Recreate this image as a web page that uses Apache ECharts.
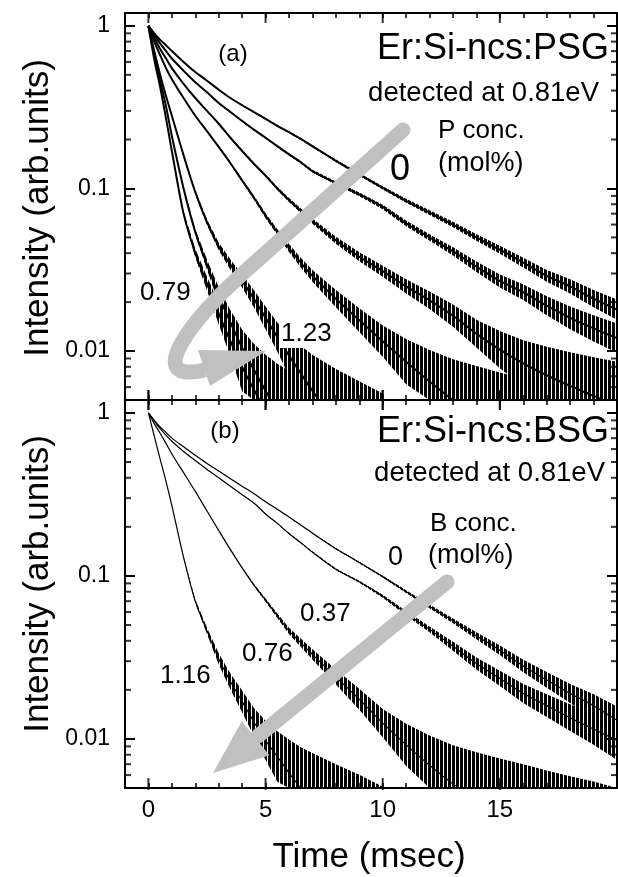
<!DOCTYPE html>
<html><head><meta charset="utf-8">
<script src="https://cdn.jsdelivr.net/npm/echarts/dist/echarts.min.js"></script>
<style>html,body{margin:0;padding:0;background:#fff}#c{width:618px;height:877px}</style>
</head><body><div id="c"></div>
<script>
// ---------- data ----------
const timeMs = [0,0.25,0.5,0.75,1,1.5,2,2.5,3,3.5,4,4.5,5,5.5,6,6.5,7,8,9,10,11,12,13,14,15,16,17,18,19,20];

// (a) Er:Si-ncs:PSG, normalized intensity
const psgP0     = [1,0.9,0.82,0.76,0.70,0.60,0.52,0.46,0.405,0.36,0.325,0.295,0.268,0.243,0.222,0.202,0.182,0.148,0.122,0.101,0.084,0.071,0.060,0.050,0.042,0.035,0.029,0.025,0.021,0.018];
const psgCurve2 = [1,0.88,0.78,0.70,0.63,0.53,0.45,0.39,0.335,0.295,0.26,0.23,0.205,0.182,0.162,0.145,0.128,0.108,0.092,0.077,0.061,0.050,0.041,0.033,0.027,0.023,0.019,0.016,0.0138,0.012];
const psgCurve3 = [1,0.85,0.72,0.63,0.55,0.44,0.36,0.30,0.25,0.205,0.17,0.142,0.12,0.10,0.085,0.073,0.063,0.048,0.038,0.031,0.025,0.0205,0.0165,0.0128,0.0102,0.0084,0.0071,0.0061,0.0053,0.0046];
const psgCurve4 = [1,0.8,0.66,0.55,0.47,0.36,0.28,0.225,0.18,0.143,0.112,0.088,0.068,0.054,0.043,0.035,0.029,0.021,0.0155,0.0115,0.0086,0.0065,0.005,0.004,0.0032,0.0026,0.0021,0.0017,0.0014,0.0012];
const psgP079   = [1,0.62,0.42,0.27,0.17,0.07,0.040,0.026,0.017,0.0115,0.008,0.0058,0.0043,0.0033,0.0026,0.0021,0.0017,0.0012,0.0009,null,null,null,null,null,null,null,null,null,null,null];
const psgCurve6 = [1,0.66,0.46,0.32,0.21,0.10,0.054,0.034,0.022,0.015,0.0105,0.0077,0.0057,0.0043,0.0034,0.0027,0.0022,0.0015,0.001,null,null,null,null,null,null,null,null,null,null,null];
const psgP123   = [1,0.7,0.5,0.37,0.28,0.16,0.095,0.062,0.044,0.034,0.027,0.021,0.016,0.0122,0.0094,0.0073,0.0057,0.0036,0.0024,0.0016,null,null,null,null,null,null,null,null,null,null];

// (b) Er:Si-ncs:BSG
const bsgB0   = [1,0.9,0.82,0.76,0.70,0.62,0.55,0.49,0.44,0.395,0.355,0.32,0.285,0.256,0.23,0.205,0.183,0.147,0.121,0.099,0.08,0.065,0.053,0.043,0.035,0.028,0.023,0.019,0.016,0.013];
const bsgB037 = [1,0.89,0.8,0.73,0.67,0.58,0.51,0.45,0.40,0.355,0.315,0.28,0.24,0.21,0.182,0.16,0.14,0.11,0.092,0.075,0.059,0.047,0.037,0.029,0.0235,0.019,0.016,0.0135,0.0115,0.0098];
const bsgB076 = [1,0.86,0.75,0.65,0.56,0.43,0.33,0.25,0.19,0.145,0.112,0.088,0.071,0.057,0.046,0.039,0.033,0.024,0.0175,0.0125,0.0092,0.0069,0.0053,0.0042,0.0034,0.0028,0.0023,0.0019,0.0016,0.0013];
const bsgB116 = [1,0.72,0.52,0.38,0.27,0.13,0.07,0.046,0.031,0.0225,0.017,0.0127,0.0098,0.0078,0.0062,0.005,0.0041,0.0028,0.002,0.0014,null,null,null,null,null,null,null,null,null,null];

// noise half-width (decades) seen around each trace, by intensity level
const noiseLevel   = [1, 0.3, 0.1, 0.05, 0.03, 0.02, 0.012, 0.008, 0.005, 0.003, 0.0015, 0.0008];
const noiseSpreadA = [0.001, 0.003, 0.010, 0.020, 0.035, 0.055, 0.09, 0.15, 0.25, 0.38, 0.55, 0.65];
const noiseSpreadB = [0, 0.001, 0.005, 0.016, 0.035, 0.055, 0.09, 0.15, 0.25, 0.38, 0.55, 0.65];

// axis ticks
const yMajorTicks = [0.01, 0.1, 1];
const yMinorTicks = [0.006,0.007,0.008,0.009,0.02,0.03,0.04,0.05,0.06,0.07,0.08,0.09,0.2,0.3,0.4,0.5,0.6,0.7,0.8,0.9];
const xMajorTicks = [0, 5, 10, 15];

// ---------- chart ----------
const FONT = '"Liberation Sans", Arial, Helvetica, sans-serif';
const GREY = '#c0c0c0';
const X_MIN = -1, X_MAX = 20, Y_MIN = 0.005, Y_MAX = 1.2;
const GRIDS = [{ left: 125, top: 13, width: 492, height: 387 }, { left: 125, top: 400, width: 492, height: 388 }];
const curvesA = [psgP0, psgCurve2, psgCurve3, psgCurve4, psgP079, psgCurve6, psgP123];
const curvesB = [bsgB0, bsgB037, bsgB076, bsgB116];

const pc = document.createElement('canvas'); pc.width = 4; pc.height = 4;
const pg = pc.getContext('2d'); pg.fillStyle = '#000'; pg.fillRect(0, 0, 3, 4);
const noiseFill = { image: pc, repeat: 'repeat' };

function spreadAt(v, table) {
  const lv = Math.log10(v);
  for (let i = 0; i < noiseLevel.length - 1; i++) {
    const a = Math.log10(noiseLevel[i]), b = Math.log10(noiseLevel[i + 1]);
    if (lv <= a && lv >= b) return table[i] + (table[i + 1] - table[i]) * (a - lv) / (a - b);
  }
  return lv > 0 ? table[0] : table[table.length - 1];
}

function bandRenderer(curves, table) {
  return function (params, api) {
    const mid = curves[params.dataIndex];
    const cs = params.coordSys;
    const bottom = cs.y + cs.height;
    const up = [], dn = [];
    for (let i = 0; i < timeMs.length; i++) {
      const m = mid[i];
      if (m == null) continue;
      const s = spreadAt(m, table);
      const a = api.coord([timeMs[i], m * Math.pow(10, s)]);
      const b = api.coord([timeMs[i], m * Math.pow(10, -s)]);
      up.push([a[0], Math.min(a[1], bottom)]);
      dn.push([b[0], Math.min(b[1], bottom)]);
    }
    return { type: 'polygon', shape: { points: up.concat(dn.reverse()) }, style: { fill: noiseFill } };
  };
}

function xAxisCfg(grid, pos, labels) {
  return {
    type: 'value', gridIndex: grid, position: pos, min: X_MIN, max: X_MAX, interval: 1,
    axisLine: { show: true, onZero: false, lineStyle: { color: '#000', width: 2 } },
    axisTick: { show: true, inside: true, length: 5, lineStyle: { color: '#000', width: 1.5 } },
    splitLine: { show: false },
    axisLabel: labels ? { show: true, margin: 10, color: '#000', fontSize: 24, fontFamily: FONT,
      formatter: v => (v >= 0 && v % 5 === 0 && v < 20) ? String(v) : '' } : { show: false }
  };
}
function yAxisCfg(grid, pos, labels) {
  return {
    type: 'log', logBase: 10, gridIndex: grid, position: pos, min: Y_MIN, max: Y_MAX,
    axisLine: { show: true, onZero: false, lineStyle: { color: '#000', width: 2 } },
    axisTick: { show: true, inside: true, length: 10, lineStyle: { color: '#000', width: 2 } },
    splitLine: { show: false },
    axisLabel: labels ? { show: true, margin: 15, color: '#000', fontSize: 23, fontFamily: FONT,
      showMinLabel: false, showMaxLabel: false,
      formatter: v => { const r = yMajorTicks.find(t => Math.abs(v - t) / t < 1e-6); return r === undefined ? '' : String(r); } } : { show: false }
  };
}

// tick marks drawn as small rect symbols placed on the axes' scales
function tickSeries(grid, data, size) {
  return { type: 'scatter', xAxisIndex: grid * 2, yAxisIndex: grid * 2, silent: true, clip: false, z: 6,
    symbol: 'rect', symbolSize: size, itemStyle: { color: '#000' }, data: data, animation: false };
}

const series = [];
function addPanel(curves, grid, table, width) {
  series.push({ type: 'custom', xAxisIndex: grid * 2, yAxisIndex: grid * 2, silent: true, z: 2,
    renderItem: bandRenderer(curves, table), data: curves.map(() => [0, 1]) });
  curves.forEach(c => series.push({
    type: 'line', xAxisIndex: grid * 2, yAxisIndex: grid * 2, silent: true, z: 3,
    showSymbol: false, smooth: 0.3, animation: false,
    lineStyle: { color: '#000', width: width },
    data: timeMs.map((t, i) => [t, c[i]]).filter(d => d[1] != null)
  }));
  series.push(tickSeries(grid, yMinorTicks.map(v => [X_MIN, v]), [12, 2]));
  series.push(tickSeries(grid, yMinorTicks.map(v => [X_MAX, v]), [12, 2]));
  series.push(tickSeries(grid, xMajorTicks.map(v => [v, Y_MIN]), [2, 20]));
  series.push(tickSeries(grid, xMajorTicks.map(v => [v, Y_MAX]), [2, 20]));
}
addPanel(curvesA, 0, noiseSpreadA, 2);
addPanel(curvesB, 1, noiseSpreadB, 1.2);

function txt(text, x, y, size, align, extra) {
  const el = { type: 'text', x: x, y: y, z: 100,
    style: { text: text, font: size + 'px ' + FONT, fill: '#000', align: align, textAlign: align,
      verticalAlign: 'middle', textVerticalAlign: 'middle' } };
  if (extra) Object.assign(el.style, extra);
  return el;
}
// thin white strips just outside the frames hide the outer halves of the tick symbols
const masks = [
  { type: 'rect', z: 80, shape: { x: 111, y: 0, width: 13, height: 800 }, style: { fill: '#fff' } },
  { type: 'rect', z: 80, shape: { x: 111, y: 0, width: 507, height: 12 }, style: { fill: '#fff' } },
  { type: 'rect', z: 80, shape: { x: 111, y: 790, width: 507, height: 9 }, style: { fill: '#fff' } }
];
const graphics = masks.concat([
  // panel (a) arrow
  { type: 'line', z: 90, shape: { x1: 403, y1: 130, x2: 240, y2: 276 }, style: { stroke: GREY, lineWidth: 15, lineCap: 'round' } },
  { type: 'bezierCurve', z: 90, shape: { x1: 240, y1: 276, cpx1: 195, cpy1: 316, cpx2: 140, cpy2: 385, x2: 205, y2: 370 },
    style: { stroke: GREY, lineWidth: 15, lineCap: 'butt', fill: null } },
  { type: 'polygon', z: 90, shape: { points: [[198, 350], [266, 351], [210, 386]] }, style: { fill: GREY } },
  // panel (b) arrow
  { type: 'line', z: 90, shape: { x1: 447, y1: 582, x2: 258, y2: 736 }, style: { stroke: GREY, lineWidth: 15, lineCap: 'round' } },
  { type: 'polygon', z: 90, shape: { points: [[213, 773], [241.7, 721.2], [269.5, 755.3]] }, style: { fill: GREY } },
  // texts (a)
  txt('(a)', 233, 54, 24, 'center'),
  txt('Er:Si-ncs:PSG', 609, 49, 36, 'right'),
  txt('detected at 0.81eV', 599, 93, 27.5, 'right'),
  txt('P conc.', 438, 131, 26, 'left'),
  txt('(mol%)', 438, 164, 27, 'left'),
  txt('0', 400, 170, 36, 'center'),
  txt('0.79', 140, 293, 26, 'left'),
  txt('1.23', 279, 334, 26, 'left', { backgroundColor: '#fff', padding: [1, 2, 1, 2] }),
  // texts (b)
  txt('(b)', 225, 431, 24, 'center'),
  txt('Er:Si-ncs:BSG', 609, 432, 36, 'right'),
  txt('detected at 0.81eV', 605, 473, 27.5, 'right'),
  txt('B conc.', 430, 524, 26, 'left'),
  txt('(mol%)', 428, 556, 27, 'left'),
  txt('0', 388, 558, 27, 'left'),
  txt('0.37', 300, 614, 26, 'left'),
  txt('0.76', 242, 654, 26, 'left'),
  txt('1.16', 160, 676, 26, 'left'),
  // axis titles
  Object.assign(txt('Intensity (arb.units)', 38, 208, 35, 'center'), { rotation: Math.PI / 2 }),
  Object.assign(txt('Intensity (arb.units)', 38, 584, 35, 'center'), { rotation: Math.PI / 2 }),
  txt('Time (msec)', 369, 857, 35, 'center')
]);

const chart = echarts.init(document.getElementById('c'), null, { renderer: 'canvas' });
chart.setOption({
  animation: false,
  backgroundColor: '#fff',
  grid: GRIDS.map(g => Object.assign({ outerBoundsMode: 'none', containLabel: false }, g)),
  xAxis: [xAxisCfg(0, 'bottom', false), xAxisCfg(0, 'top', false), xAxisCfg(1, 'bottom', true), xAxisCfg(1, 'top', false)],
  yAxis: [yAxisCfg(0, 'left', true), yAxisCfg(0, 'right', false), yAxisCfg(1, 'left', true), yAxisCfg(1, 'right', false)],
  series: series,
  graphic: { elements: graphics }
});
</script>
</body></html>
